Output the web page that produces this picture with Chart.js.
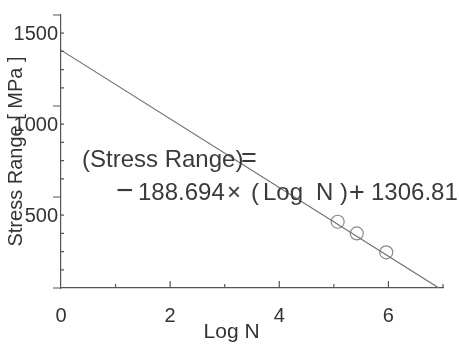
<!DOCTYPE html>
<html>
<head>
    <title>Stress Range vs Log N</title>
    <script src="https://cdn.jsdelivr.net/npm/chart.js"></script>
    <style>
        body {
            margin: 0;
            background-color: #ffffff;
        }
        .chart-container {
            width: 459px;
            height: 344px;
        }
    </style>
</head>
<body>
    <div class="chart-container">
        <canvas id="chart1"></canvas>
    </div>

    <script>
        // Test points
        const logN = [5.07, 5.42, 5.96];
        const stressRange = [364, 300, 196];

        // Fitted line: (Stress Range) = -188.694 x (Log N) + 1306.81
        const fitLogN = [0, 6.925];
        const fitStress = [1306.81, 0];

        const xTickLabels = ['0', '2', '4', '6'];
        const yTickLabels = ['1500', '1000', '500'];

        const axisColor = '#555555';
        const textColor = '#333333';
        const fontFamily = '"Liberation Sans", Arial, sans-serif';

        // Short tick marks, equation text and the axis stub (drawn on the scales)
        const extrasPlugin = {
            id: 'extras',
            afterDraw(chart) {
                const ctx = chart.ctx;
                const x = chart.scales.x;
                const y = chart.scales.y;
                const x0 = x.getPixelForValue(0);
                const y0 = y.getPixelForValue(0);
                ctx.save();
                ctx.strokeStyle = axisColor;
                ctx.lineWidth = 1.2;
                ctx.beginPath();
                // x axis runs a bit past the y axis
                ctx.moveTo(x0 - 8, y0);
                ctx.lineTo(x0, y0);
                // y ticks: major outward, minor inward
                for (let v = 100; v <= 1500; v += 100) {
                    const py = y.getPixelForValue(v);
                    if (v % 500 === 0) {
                        ctx.moveTo(x0 - 8, py);
                        ctx.lineTo(x0, py);
                    } else {
                        ctx.moveTo(x0, py);
                        ctx.lineTo(x0 + 3, py);
                    }
                }
                // x ticks pointing up
                for (let v = 1; v <= 7; v++) {
                    const px = x.getPixelForValue(v);
                    ctx.moveTo(px, y0);
                    ctx.lineTo(px, y0 - (v % 2 === 0 ? 7 : 4));
                }
                ctx.stroke();

                // equation, piece by piece to follow the original spacing
                ctx.fillStyle = '#3a3a3a';
                ctx.textBaseline = 'alphabetic';
                ctx.font = '24px ' + fontFamily;
                ctx.fillText('(Stress Range)', 82, 167);
                ctx.fillText('188.694', 138, 200);
                ctx.fillText('\u00D7', 227, 200);
                ctx.fillText('(', 251, 200);
                ctx.fillText('Log', 263, 200);
                ctx.fillText('N', 316, 200);
                ctx.fillText(')', 340, 200);
                ctx.fillText('1306.81', 371, 200);
                ctx.font = '27px ' + fontFamily;
                ctx.fillText('=', 241, 167);
                ctx.fillText('+', 349, 201);
                ctx.font = '30px ' + fontFamily;
                ctx.fillText('\u2212', 116, 200);
                ctx.restore();
            }
        };

        const ctx1 = document.getElementById('chart1').getContext('2d');
        const chart1 = new Chart(ctx1, {
            type: 'scatter',
            data: {
                datasets: [{
                    label: 'Fit',
                    data: fitLogN.map((v, i) => ({ x: v, y: fitStress[i] })),
                    showLine: true,
                    borderColor: '#6f6f6f',
                    borderWidth: 1.2,
                    pointRadius: 0
                }, {
                    label: 'Test',
                    data: logN.map((v, i) => ({ x: v, y: stressRange[i] })),
                    pointRadius: 6.5,
                    pointBackgroundColor: '#ffffff',
                    pointBorderColor: '#8a8a8a',
                    pointBorderWidth: 1.2
                }]
            },
            options: {
                responsive: true,
                maintainAspectRatio: false,
                animation: false,
                layout: { padding: { top: 12, right: 12, left: 0, bottom: 0 } },
                plugins: {
                    legend: { display: false },
                    tooltip: { enabled: false }
                },
                scales: {
                    x: {
                        type: 'linear',
                        min: 0,
                        max: 7,
                        afterFit: (s) => { s.height = 56; },
                        ticks: {
                            stepSize: 1,
                            autoSkip: false,
                            maxRotation: 0,
                            padding: 16,
                            color: textColor,
                            font: { size: 20, family: fontFamily },
                            callback: (v) => xTickLabels.includes(String(v)) ? String(v) : ''
                        },
                        grid: { display: false, drawTicks: false },
                        border: { display: true, color: axisColor, width: 1.2 },
                        title: {
                            display: true,
                            text: 'Log N' + '\u00a0'.repeat(7),
                            color: textColor,
                            font: { size: 21, family: fontFamily },
                            padding: { top: 0, bottom: -1 }
                        }
                    },
                    y: {
                        min: 0,
                        max: 1500,
                        afterFit: (s) => { s.width = 61; },
                        ticks: {
                            stepSize: 500,
                            padding: 3,
                            labelOffset: 19,
                            color: textColor,
                            font: { size: 20, family: fontFamily },
                            callback: (v) => yTickLabels.includes(String(v)) ? String(v) : ''
                        },
                        grid: { display: false, drawTicks: false },
                        border: { display: true, color: axisColor, width: 1.2 },
                        title: {
                            display: true,
                            text: 'Stress Range [ MPa ]',
                            color: textColor,
                            font: { size: 20, family: fontFamily },
                            padding: { top: 4, bottom: 0 }
                        }
                    }
                }
            },
            plugins: [extrasPlugin]
        });
    </script>
</body>
</html>
